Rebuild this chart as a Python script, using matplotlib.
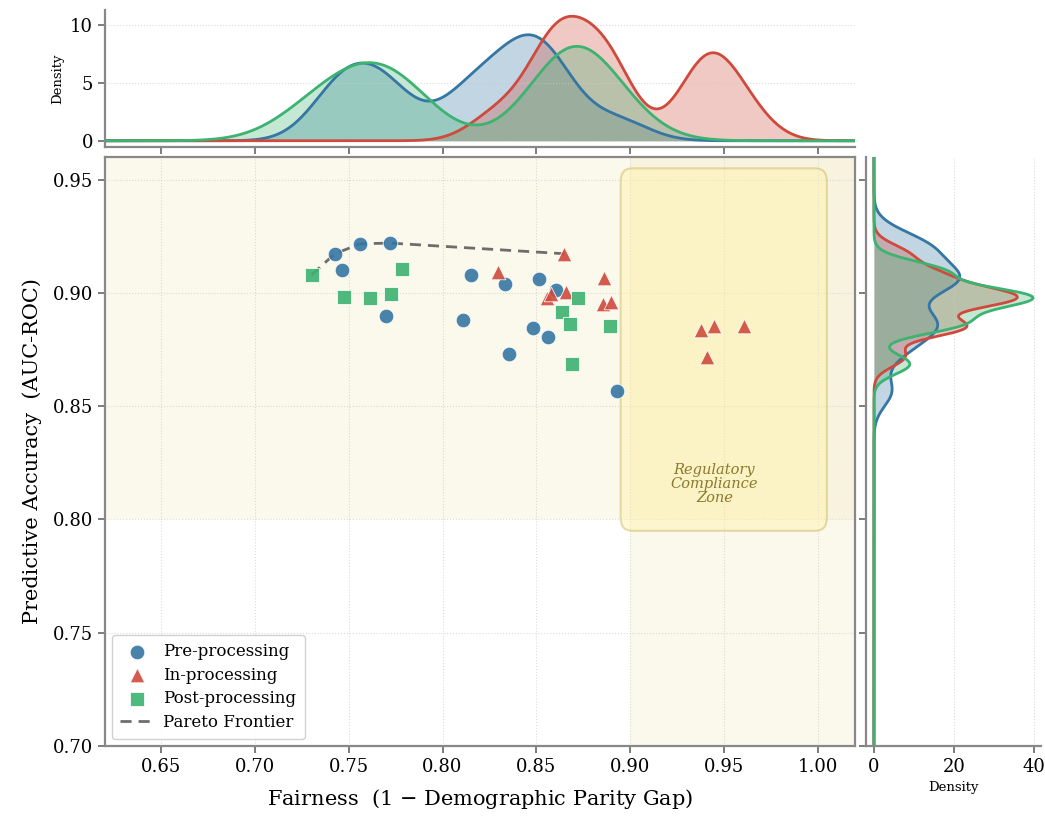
import numpy as np
import matplotlib
matplotlib.use("Agg")
import matplotlib.pyplot as plt
from matplotlib.patches import FancyBboxPatch

# =================================================
# DATOS
# =================================================
pre_x = [0.7426, 0.7562, 0.7722, 0.7464, 0.7697, 0.8153, 0.8335, 0.8108,
         0.8516, 0.8605, 0.8480, 0.8560, 0.8356, 0.8933]
pre_y = [0.9173, 0.9217, 0.9220, 0.9102, 0.8900, 0.9077, 0.9040, 0.8882,
         0.9062, 0.9013, 0.8844, 0.8804, 0.8730, 0.8565]

in_x = [0.8649, 0.8294, 0.8862, 0.8557, 0.8581, 0.8658, 0.8856, 0.8897,
        0.9376, 0.9450, 0.9606, 0.9408]
in_y = [0.9173, 0.9092, 0.9065, 0.8977, 0.8996, 0.9003, 0.8951, 0.8962,
        0.8836, 0.8855, 0.8855, 0.8718]

post_x = [0.7302, 0.7786, 0.7473, 0.7612, 0.7727, 0.8725, 0.8635, 0.8681,
          0.8894, 0.8690]
post_y = [0.9080, 0.9106, 0.8984, 0.8976, 0.8996, 0.8978, 0.8917, 0.8861,
          0.8855, 0.8686]

pareto_x = [0.7302, 0.7426, 0.7562, 0.7722, 0.8649]
pareto_y = [0.9080, 0.9173, 0.9217, 0.9220, 0.9173]

nombres = ["Pre-processing", "In-processing", "Post-processing"]
colores = ["#3576a3", "#cf4a3c", "#3cb371"]
marcadores = ["o", "^", "s"]

plt.rcParams["font.family"] = ["DejaVu Serif"]


def kde(valores, grilla, ajuste=0.58):
    # KDE gaussiana con regla de Scott (como scipy)
    v = np.asarray(valores)
    n = len(v)
    bw = v.std(ddof=1) * n ** (-1 / 5) * ajuste
    z = (grilla[:, None] - v[None, :]) / bw
    return np.exp(-0.5 * z ** 2).sum(axis=1) / (n * bw * np.sqrt(2 * np.pi))


W, H = 1045, 818
fig = plt.figure(figsize=(W / 100, H / 100), dpi=100)


def caja(l, t, r, b):
    return [l / W, 1 - b / H, (r - l) / W, (b - t) / H]


ax = fig.add_axes(caja(105, 157, 855, 746))
ax_top = fig.add_axes(caja(105, 10, 855, 147), sharex=ax)
ax_der = fig.add_axes(caja(866, 157, 1041, 746), sharey=ax)

xlim = (0.62, 1.02)
ylim = (0.70, 0.96)
ax.set_xlim(*xlim)
ax.set_ylim(*ylim)

# zonas sombreadas
ax.axhspan(0.80, 0.96, color="#f3e6b5", alpha=0.25, lw=0, zorder=0)
ax.axvspan(0.90, 1.02, color="#f3e6b5", alpha=0.25, lw=0, zorder=0)
zona = FancyBboxPatch((0.90, 0.80), 0.10, 0.15,
                      boxstyle="round,pad=0.005,rounding_size=0.006",
                      facecolor="#fff2a8", edgecolor="#c9b45a",
                      alpha=0.45, lw=1.5, zorder=1)
ax.add_patch(zona)
ax.text(0.945, 0.8155, "Regulatory\nCompliance\nZone", ha="center", va="center",
        fontsize=10.5, style="italic", color="#8a7a2a", linespacing=1.0, zorder=2)

# puntos
grupos = [(pre_x, pre_y), (in_x, in_y), (post_x, post_y)]
for (gx, gy), nom, col, mk in zip(grupos, nombres, colores, marcadores):
    tam = 110 if mk != "s" else 95
    ax.scatter(gx, gy, s=tam, marker=mk, color=col, alpha=0.9,
               edgecolor="white", linewidth=0.6, zorder=4, label=nom)

ax.plot(pareto_x, pareto_y, "--", color="#555555", lw=2, alpha=0.85,
        dashes=(4, 2.5), zorder=3, label="Pareto Frontier")

ax.set_xticks(np.arange(0.65, 1.001, 0.05))
ax.set_yticks(np.arange(0.70, 0.951, 0.05))
ax.xaxis.set_major_formatter(matplotlib.ticker.FormatStrFormatter("%.2f"))
ax.yaxis.set_major_formatter(matplotlib.ticker.FormatStrFormatter("%.2f"))
ax.grid(True, ls=":", lw=0.8, color="#cccccc", alpha=0.7)
ax.set_axisbelow(True)
ax.tick_params(labelsize=13, color="#666666", length=5, width=1.2)
for s in ax.spines.values():
    s.set_color("#888888")
    s.set_linewidth(1.6)
ax.set_xlabel("Fairness  (1 $-$ Demographic Parity Gap)", fontsize=15, labelpad=8)
ax.set_ylabel("Predictive Accuracy  (AUC-ROC)", fontsize=15, labelpad=8)

ley = ax.legend(loc="lower left", fontsize=12, frameon=True, fancybox=True,
                framealpha=0.9, edgecolor="#cccccc", borderpad=0.5,
                handletextpad=0.6, labelspacing=0.4, borderaxespad=0.4)
ley.get_frame().set_linewidth(1.0)

# marginal superior
gx_grid = np.linspace(xlim[0], xlim[1], 500)
for (gx, gy), col in zip(grupos, colores):
    d = kde(gx, gx_grid)
    ax_top.fill_between(gx_grid, 0, d, color=col, alpha=0.3, lw=0)
    ax_top.plot(gx_grid, d, color=col, lw=2)
ax_top.set_yticks([0, 5, 10])
ax_top.set_ylabel("Density", fontsize=9.5)
ax_top.grid(True, axis="y", ls=":", lw=0.8, color="#cccccc", alpha=0.7)
ax_top.tick_params(axis="x", labelbottom=False, color="#666666", length=5, width=1.2)
ax_top.tick_params(axis="y", labelsize=13, color="#666666", length=5, width=1.2)
for lado in ["top", "right"]:
    ax_top.spines[lado].set_visible(False)
for lado in ["left", "bottom"]:
    ax_top.spines[lado].set_color("#888888")
    ax_top.spines[lado].set_linewidth(1.6)

# marginal derecho
gy_grid = np.linspace(ylim[0], ylim[1], 500)
for (gx, gy), col in zip(grupos, colores):
    d = kde(gy, gy_grid)
    ax_der.fill_betweenx(gy_grid, 0, d, color=col, alpha=0.3, lw=0)
    ax_der.plot(d, gy_grid, color=col, lw=2)
ax_der.set_xticks([0, 20, 40])
ax_der.set_xlabel("Density", fontsize=9.5)
ax_der.grid(True, axis="x", ls=":", lw=0.8, color="#cccccc", alpha=0.7)
ax_der.tick_params(axis="y", labelleft=False, color="#666666", length=5, width=1.2)
ax_der.tick_params(axis="x", labelsize=13, color="#666666", length=5, width=1.2)
for lado in ["top", "right"]:
    ax_der.spines[lado].set_visible(False)
for lado in ["left", "bottom"]:
    ax_der.spines[lado].set_color("#888888")
    ax_der.spines[lado].set_linewidth(1.6)

ax.set_xlim(*xlim)
ax.set_ylim(*ylim)

fig.savefig("out.png", dpi=100)
